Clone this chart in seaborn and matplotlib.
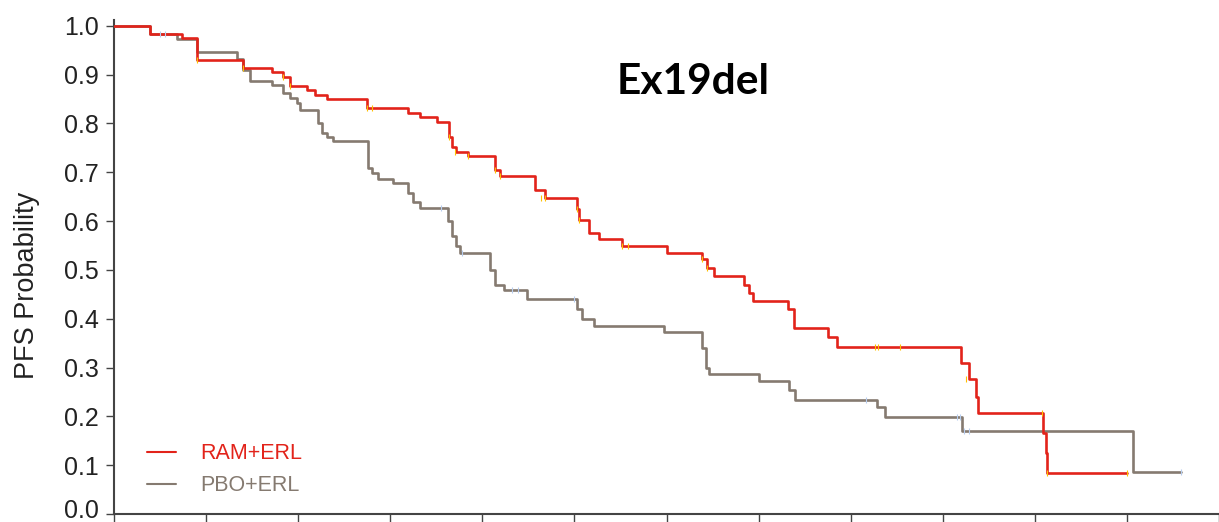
import matplotlib
matplotlib.use("Agg")
import matplotlib.pyplot as plt
import matplotlib.transforms as mtransforms
import seaborn as sns
import pandas as pd
import numpy as np

# ---- data (months, survival probability) ----
ram_t = [0, 1.17, 2.21, 2.70, 4.20, 5.14, 5.50, 5.73, 6.28, 6.54, 6.93, 8.23, 9.57,
         9.96, 10.51, 10.90, 11.00, 11.13, 11.52, 12.40, 12.56, 13.73, 14.03, 15.07,
         15.16, 15.49, 15.81, 16.56, 18.00, 19.17, 19.33, 19.56, 20.53, 20.70, 20.83,
         21.97, 22.16, 23.27, 23.56, 27.59, 27.86, 28.08, 28.15, 30.26, 30.36, 30.39, 33.0]
ram_s = [1.0, 0.983, 0.975, 0.930, 0.914, 0.906, 0.895, 0.877, 0.869, 0.859, 0.850, 0.832, 0.822,
         0.813, 0.803, 0.773, 0.752, 0.742, 0.734, 0.705, 0.693, 0.664, 0.647, 0.625,
         0.602, 0.575, 0.563, 0.549, 0.535, 0.522, 0.504, 0.488, 0.469, 0.453, 0.436,
         0.420, 0.381, 0.363, 0.342, 0.309, 0.277, 0.240, 0.207, 0.166, 0.125, 0.084, 0.084]

pbo_t = [0, 1.17, 2.05, 2.70, 4.00, 4.20, 4.43, 5.14, 5.50, 5.73, 5.96, 6.05, 6.64, 6.77,
         6.93, 7.13, 8.27, 8.40, 8.59, 9.08, 9.57, 9.73, 9.96, 10.87, 11.00, 11.13, 11.26,
         12.24, 12.40, 12.72, 13.47, 15.07, 15.26, 15.65, 17.93, 19.17, 19.30, 19.39,
         21.02, 22.00, 22.19, 24.86, 25.12, 27.63, 33.19, 34.75]
pbo_s = [1.0, 0.983, 0.973, 0.946, 0.932, 0.910, 0.887, 0.879, 0.863, 0.852, 0.842, 0.828, 0.800, 0.780,
         0.772, 0.764, 0.709, 0.698, 0.686, 0.678, 0.657, 0.640, 0.627, 0.600, 0.570, 0.550, 0.535,
         0.500, 0.470, 0.459, 0.440, 0.420, 0.400, 0.385, 0.373, 0.340, 0.300, 0.287,
         0.273, 0.255, 0.234, 0.219, 0.199, 0.171, 0.086, 0.086]

# censor marks (time, prob)
ram_cens_t = [2.70, 4.20, 5.50, 5.73, 8.23, 8.40, 10.90, 11.10, 11.52, 12.40, 12.56, 13.90, 14.03,
              15.07, 15.16, 16.56, 16.75, 19.17, 19.33, 24.80, 24.90, 25.60, 27.75, 30.23, 30.39, 33.0]
ram_cens_s = [0.930, 0.914, 0.895, 0.877, 0.832, 0.832, 0.773, 0.742, 0.734, 0.705, 0.693, 0.647, 0.647,
              0.625, 0.602, 0.549, 0.549, 0.522, 0.504, 0.342, 0.342, 0.342, 0.277, 0.207, 0.084, 0.084]
pbo_cens_t = [1.50, 1.65, 10.64, 11.35, 12.98, 13.15, 15.00, 24.50, 27.45, 27.55, 27.70, 27.85, 34.75]
pbo_cens_s = [0.983, 0.983, 0.627, 0.535, 0.459, 0.459, 0.440, 0.234, 0.199, 0.199, 0.171, 0.171, 0.086]

arms = ["RAM+ERL", "PBO+ERL"]
colors = {"RAM+ERL": "#e2231a", "PBO+ERL": "#857a70"}
cens_colors = {"RAM+ERL": "#ffc000", "PBO+ERL": "#b7cdee"}
xticks = list(range(0, 37, 3))
yticks = [0.0, 0.1, 0.2, 0.3, 0.4, 0.5, 0.6, 0.7, 0.8, 0.9, 1.0]

df = pd.concat([
    pd.DataFrame({"time": ram_t, "prob": ram_s, "arm": "RAM+ERL"}),
    pd.DataFrame({"time": pbo_t, "prob": pbo_s, "arm": "PBO+ERL"}),
], ignore_index=True)
cens = pd.concat([
    pd.DataFrame({"time": ram_cens_t, "prob": ram_cens_s, "arm": "RAM+ERL"}),
    pd.DataFrame({"time": pbo_cens_t, "prob": pbo_cens_s, "arm": "PBO+ERL"}),
], ignore_index=True)

sns.set_theme(style="white")
plt.rcParams["font.family"] = ["Liberation Sans", "DejaVu Sans"]

fig = plt.figure(figsize=(12.19, 5.22), dpi=100)
ax = fig.add_axes([114 / 1219, 8 / 522, 1 - 114 / 1219, (514 - 20) / 522])

# draw PBO first then RAM on top
for arm in ["PBO+ERL", "RAM+ERL"]:
    sub = df[df["arm"] == arm]
    sns.lineplot(data=sub, x="time", y="prob", color=colors[arm], estimator=None, sort=False,
                 drawstyle="steps-post", linewidth=1.9, ax=ax, label=arm,
                 zorder=3 if arm == "RAM+ERL" else 2)
    cs = cens[cens["arm"] == arm]
    sns.scatterplot(data=cs, x="time", y="prob", marker="|", s=18, linewidth=0.8,
                    color=cens_colors[arm], ax=ax, zorder=4, legend=False)

ax.set_xlim(0, 36)
ax.set_ylim(0, 1.012)
ax.set_xticks(xticks)
ax.set_xticklabels([""] * len(xticks))
ax.set_yticks(yticks)
ytlabels = [f"{v:.1f}" for v in yticks]
ax.set_yticklabels([""] + ytlabels[1:], fontsize=18, color="#222222")
# lowest label drawn separately, nudged up a touch so it stays inside the figure
off = mtransforms.ScaledTranslation(-15 / 100, 5 / 100, fig.dpi_scale_trans)
ax.text(0, yticks[0], ytlabels[0], transform=ax.get_yaxis_transform() + off,
        ha="right", va="center_baseline", fontsize=18, color="#222222", clip_on=False)
ax.set_xlabel("")
ax.set_ylabel("PFS Probability", fontsize=19.5, color="#222222")
ax.yaxis.set_label_coords(-0.067, 0.463)
ax.tick_params(axis="both", which="both", direction="out", length=6, width=1.0, color="#444444",
               left=True, bottom=True, pad=5)
for side in ["top", "right"]:
    ax.spines[side].set_visible(False)
for side in ["left", "bottom"]:
    ax.spines[side].set_color("#444444")
    ax.spines[side].set_linewidth(1.5)

handles, labels = ax.get_legend_handles_labels()
order = [labels.index("RAM+ERL"), labels.index("PBO+ERL")]
leg = ax.legend([handles[i] for i in order], [labels[i] for i in order], loc="lower left",
                bbox_to_anchor=(0.030, 0.036), frameon=False, fontsize=15.5, handlelength=1.35,
                handletextpad=1.1, labelspacing=0.5, borderpad=0, borderaxespad=0)
for txt in leg.get_texts():
    txt.set_color(colors[txt.get_text()])
for line in leg.get_lines():
    line.set_linewidth(1.5)

ax.text(0.524, 0.875, "Ex19del", transform=ax.transAxes, ha="center", va="center",
        fontsize=30.5, fontweight="bold", family=["Lato", "DejaVu Sans"], color="black")

fig.savefig("out.png", dpi=100)
